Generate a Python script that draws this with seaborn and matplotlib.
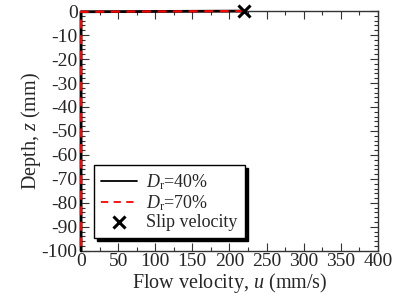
import numpy as np
import pandas as pd
import matplotlib
matplotlib.use('Agg')
import matplotlib.pyplot as plt
import seaborn as sns
from matplotlib.ticker import MultipleLocator

# Flow velocity profiles (mm/s) against depth (mm)
depth = [0, -0.3, -1, -10, -20, -30, -40, -50, -60, -70, -80, -90, -100]
u_dr40 = [220, 0, 0, 0, 0, 0, 0, 0, 0, 0, 0, 0, 0]
u_dr70 = [220, 0, 0, 0, 0, 0, 0, 0, 0, 0, 0, 0, 0]
slip_u = [220]
slip_z = [0]

sns.set_style('ticks')
plt.rcParams['font.family'] = ['Liberation Serif', 'DejaVu Serif']
plt.rcParams['mathtext.fontset'] = 'custom'
plt.rcParams['mathtext.it'] = 'Liberation Serif:italic'
plt.rcParams['mathtext.rm'] = 'Liberation Serif'
plt.rcParams['axes.unicode_minus'] = False

df40 = pd.DataFrame({'u': u_dr40, 'z': depth})
df70 = pd.DataFrame({'u': u_dr70, 'z': depth})

fig = plt.figure(figsize=(4.05, 2.99), dpi=100)
ax = fig.add_axes([0.2, 0.161, 0.733, 0.802])

sns.lineplot(data=df40, x='u', y='z', sort=False, estimator=None, color='black',
             lw=2, label=r'$D_{\mathrm{r}}$=40%', ax=ax, clip_on=False, zorder=4)
sns.lineplot(data=df70, x='u', y='z', sort=False, estimator=None, color='red',
             lw=1.6, ls=(0, (4, 3)), label=r'$D_{\mathrm{r}}$=70%', ax=ax,
             clip_on=False, zorder=4.5)
sns.scatterplot(x=slip_u, y=slip_z, marker='x', s=75, color='black',
                linewidth=2.2, label='Slip velocity', ax=ax, clip_on=False, zorder=5)

ax.set_xlim(0, 400)
ax.set_ylim(-100, 0)
ax.xaxis.set_major_locator(MultipleLocator(50))
ax.xaxis.set_minor_locator(MultipleLocator(25))
ax.yaxis.set_major_locator(MultipleLocator(10))
ax.yaxis.set_minor_locator(MultipleLocator(2))
ax.tick_params(which='both', direction='in', top=True, right=True, labelsize=14,
               color='#333333', pad=1.5)
ax.tick_params(axis='y', pad=2.5)
ax.tick_params(which='major', length=6, width=0.8)
ax.tick_params(which='minor', length=3, width=0.8)
for sp in ax.spines.values():
    sp.set_color('#333333')
    sp.set_linewidth(1.0)

ax.set_xlabel(r'Flow velocity, $u$ (mm/s)', fontsize=14.5, labelpad=1)
ax.set_ylabel(r'Depth, $z$ (mm)', fontsize=14.5, labelpad=-1)

leg = ax.legend(loc='lower left', bbox_to_anchor=(0.044, 0.054), borderaxespad=0,
                fontsize=13, frameon=True, fancybox=False,
                shadow={'color': 'black', 'alpha': 1, 'ox': 2, 'oy': -2},
                borderpad=0.4, handlelength=2.0, labelspacing=0.05,
                handletextpad=0.5, framealpha=1)
leg.get_frame().set_edgecolor('black')
leg.get_frame().set_linewidth(1.0)
for h in leg.get_lines():
    h.set_linewidth(1.3)

fig.savefig('out.png', dpi=100)
